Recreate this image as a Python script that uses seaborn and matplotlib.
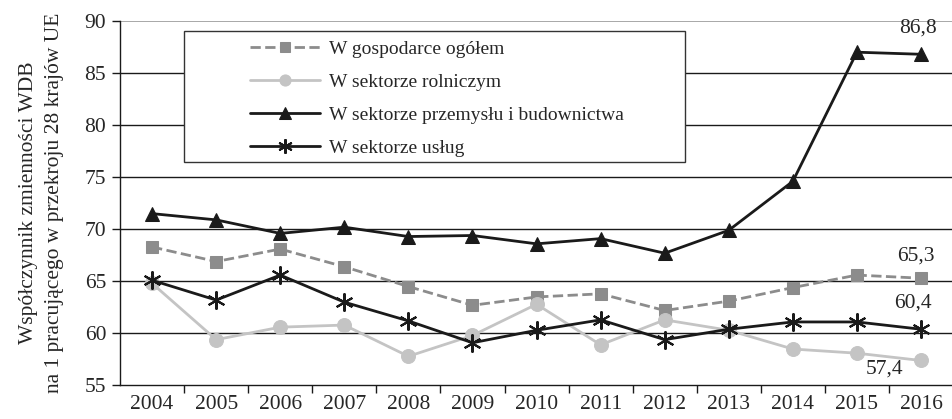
import matplotlib.pyplot as plt
import matplotlib.patches as mpatches
import pandas as pd
import seaborn as sns

years = [str(y) for y in range(2004, 2017)]

gospodarka = [68.3, 66.9, 68.1, 66.4, 64.5, 62.7, 63.5, 63.8, 62.2, 63.1, 64.4, 65.6, 65.3]
rolnictwo = [64.8, 59.4, 60.6, 60.8, 57.8, 59.8, 62.8, 58.9, 61.3, 60.3, 58.5, 58.1, 57.4]
przemysl = [71.5, 70.9, 69.6, 70.2, 69.3, 69.4, 68.6, 69.1, 67.7, 69.9, 74.6, 87.0, 86.8]
uslugi = [65.1, 63.2, 65.6, 63.0, 61.2, 59.1, 60.3, 61.3, 59.4, 60.4, 61.1, 61.1, 60.4]

labels = [
    "W gospodarce ogółem",
    "W sektorze rolniczym",
    "W sektorze przemysłu i budownictwa",
    "W sektorze usług",
]

sns.set_theme(style="white")
plt.rcParams["font.family"] = ["Liberation Serif", "DejaVu Serif"]

df = pd.DataFrame({"x": range(len(years))})

fig, ax = plt.subplots(figsize=(9.53, 4.19), dpi=100)

styles = [
    (gospodarka, dict(color="#8c8c8c", linestyle="--", marker="s", markersize=9)),
    (rolnictwo, dict(color="#c4c4c4", linestyle="-", marker="o", markersize=10)),
    (przemysl, dict(color="#1a1a1a", linestyle="-", marker="^", markersize=10)),
    (uslugi, dict(color="#1a1a1a", linestyle="-", marker=(6, 2, 0), markersize=13,
                  markeredgewidth=1.5)),
]
for (vals, st), lab in zip(styles, labels):
    sns.lineplot(x=df["x"], y=vals, ax=ax, label=lab, linewidth=2,
                 markeredgecolor=st["color"], **st)

fs = 15.5
ax.set_xlim(-0.5, len(years) - 0.5)
ax.set_ylim(55, 90)
ax.set_yticks(range(55, 91, 5))
ax.set_xticks(range(len(years)))
ax.set_xticklabels(years)
ax.set_xticks([i + 0.5 for i in range(len(years) - 1)], minor=True)
ax.tick_params(axis="x", which="major", length=0, labelsize=fs, pad=7)
ax.tick_params(axis="x", which="minor", length=6, width=1, color="#1a1a1a", direction="out", bottom=True)
ax.tick_params(axis="y", length=6, width=1, color="#1a1a1a", direction="out", left=True,
               labelsize=fs, pad=4)

for v in range(60, 90, 5):
    ax.axhline(v, color="#1a1a1a", linewidth=1, zorder=0)
ax.axhline(90, color="#999999", linewidth=1.2, zorder=0)

for s in ["top", "right"]:
    ax.spines[s].set_visible(False)
for s in ["left", "bottom"]:
    ax.spines[s].set_color("#1a1a1a")
    ax.spines[s].set_linewidth(1)

ax.set_xlabel("")
ax.set_ylabel("Współczynnik zmienności WDB\nna 1 pracującego w przekroju 28 krajów UE",
              fontsize=fs, labelpad=15, linespacing=1.45)

last = len(years) - 1
ax.annotate("86,8", (last, przemysl[-1]), xytext=(-2, 12), textcoords="offset points",
            ha="center", va="bottom", fontsize=fs)
ax.annotate("65,3", (last, gospodarka[-1]), xytext=(-4, 9), textcoords="offset points",
            ha="center", va="bottom", fontsize=fs)
ax.annotate("60,4", (last, uslugi[-1]), xytext=(-6, 12), textcoords="offset points",
            ha="center", va="bottom", fontsize=fs)
ax.annotate("57,4", (last, rolnictwo[-1]), xytext=(-26, -6), textcoords="offset points",
            ha="center", va="center", fontsize=fs)

# legend frame drawn separately (it is wider than its entries)
ax.add_patch(mpatches.Rectangle((0.077, 0.613), 0.601, 0.36, transform=ax.transAxes,
                                facecolor="white", edgecolor="#333333", linewidth=1,
                                zorder=4))
leg = ax.legend(loc="upper left", bbox_to_anchor=(0.156, 0.946), fontsize=14,
                frameon=False, borderpad=0, labelspacing=0.78, handlelength=3.6,
                handletextpad=0.45, borderaxespad=0, markerscale=0.8)
leg.set_zorder(5)

fig.subplots_adjust(left=0.126, right=1.0, top=0.95, bottom=0.08)
fig.savefig("out.png", dpi=100)
